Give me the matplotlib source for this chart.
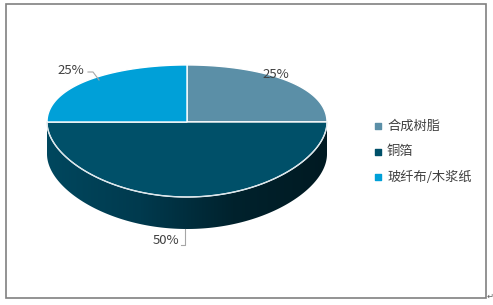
import numpy as np
import matplotlib
matplotlib.use("Agg")
import matplotlib.pyplot as plt
from matplotlib.patches import Polygon, Rectangle
from matplotlib.colors import LinearSegmentedColormap

plt.rcParams['font.family'] = ['Noto Sans CJK SC', 'DejaVu Sans']

# data
labels = ['合成树脂', '铜箔', '玻纤布/木浆纸']
values = [25, 50, 25]
colors = ['#5b8fa7', '#005069', '#00a0d8']
pct_text = ['25%', '50%', '25%']

# pie geometry (pixel space)
cx, cy = 187, 122
a = 140.0
e = 0.136
b = 64.8
depth = 32


def proj(theta):
    # theta clockwise from back, radians
    u = np.sin(theta)
    v = -np.cos(theta)
    return cx + a * u, cy + b * v / (1 - e * v)


fig = plt.figure(figsize=(4.93, 3.05), dpi=100)
ax = fig.add_axes([0, 0, 1, 1])
ax.set_xlim(0, 493)
ax.set_ylim(305, 0)
ax.axis('off')

# frame
ax.add_patch(Rectangle((6, 4), 480, 294, fill=False, ec='#808080', lw=1.2))
ax.text(487, 296, '↵', fontsize=6, color='#606060', ha='left', va='center')

# side of the cylinder (front half)
t = np.linspace(np.pi / 2, 3 * np.pi / 2, 200)
xs, ys = proj(t)
side = np.vstack([np.column_stack([xs, ys]),
                  np.column_stack([xs[::-1], ys[::-1] + depth])])
side_poly = Polygon(side, closed=True, fc='none', ec='none')
ax.add_patch(side_poly)
grad = np.linspace(0, 1, 256).reshape(1, -1)
cmap = LinearSegmentedColormap.from_list('side', ['#00475e', '#003a4e', '#00222d', '#001a22'])
im = ax.imshow(grad, cmap=cmap, extent=[cx - a, cx + a, cy + 80 + depth, cy - 5],
               aspect='auto', zorder=1)
im.set_clip_path(side_poly)

# top face wedges
frac = np.array(values, dtype=float) / sum(values)
starts = np.concatenate([[0], np.cumsum(frac)[:-1]]) * 2 * np.pi
ends = np.cumsum(frac) * 2 * np.pi
for s, en, c in zip(starts, ends, colors):
    tt = np.linspace(s, en, 120)
    px, py = proj(tt)
    pts = np.vstack([[cx, cy], np.column_stack([px, py])])
    ax.add_patch(Polygon(pts, closed=True, fc=c, ec='white', lw=1.0, zorder=3))

# thin light edge along the front rim
ax.plot(xs, ys, color='#d8e4ea', lw=0.8, zorder=4)

# data labels
tc = '#404040'
fs = 9.5
ax.text(71, 70, pct_text[2], fontsize=fs, color=tc, ha='center', va='center', zorder=5)
ax.plot([88, 93, 99], [72, 72, 80], color='#a6a6a6', lw=0.8, zorder=5)
ax.text(276, 74, pct_text[0], fontsize=fs, color=tc, ha='center', va='center', zorder=5)
ax.text(166, 241, pct_text[1], fontsize=fs, color=tc, ha='center', va='center', zorder=5)
bx, by = proj(np.pi)
ax.plot([181, 185, 185], [245, 245, by + depth], color='#a6a6a6', lw=0.8, zorder=5)

# legend
for i, (lab, c) in enumerate(zip(labels, colors)):
    y = 126 + i * 25.5
    ax.scatter([378], [y], marker='s', s=14, color=c, zorder=5)
    ax.text(387, y, lab, fontsize=9.5, color='#404040', ha='left', va='center')

fig.savefig('out.png', dpi=100)
